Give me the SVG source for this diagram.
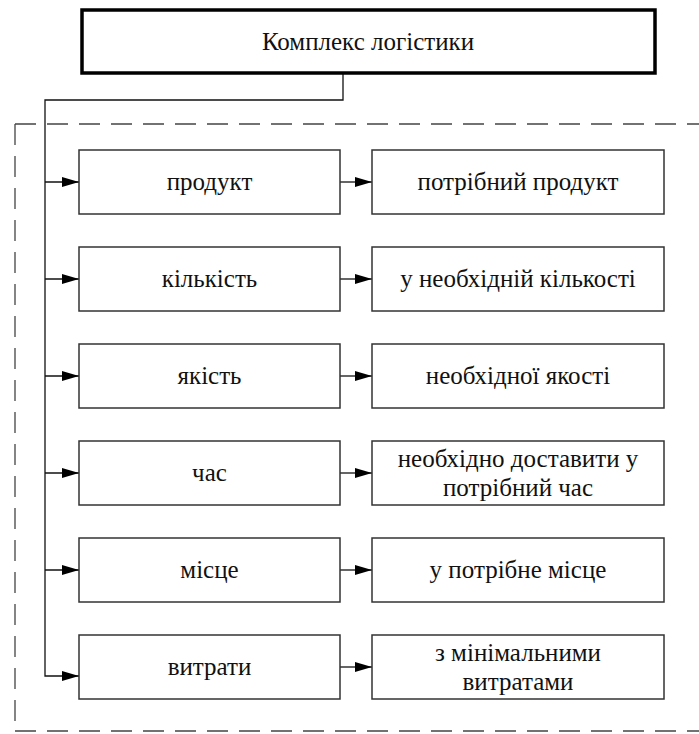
<svg xmlns="http://www.w3.org/2000/svg" width="699" height="734" viewBox="0 0 699 734">
<defs>
<style>
.box{fill:#fff;stroke:#333;stroke-width:1.5}
.top{fill:#fff;stroke:#000;stroke-width:3.5}
text{font-family:"Liberation Serif","Times New Roman","DejaVu Serif",serif;font-size:25px;fill:#111;text-anchor:middle}
.c{fill:none;stroke:#111;stroke-width:1.3}
.d{fill:none;stroke:#444;stroke-width:1.3;stroke-dasharray:21 11}
</style>
<marker id="ah" markerWidth="17" markerHeight="10" refX="17" refY="5" orient="auto" markerUnits="userSpaceOnUse">
<polygon points="0,0 17,5 0,10" fill="#000"/>
</marker>
</defs>
<g id="frame">
<line class="d" x1="15" y1="124" x2="715" y2="124"/>
<line class="d" x1="15" y1="124" x2="15" y2="731"/>
<line class="d" x1="15" y1="731" x2="715" y2="731"/>
</g>
<g id="connectors">
<polyline class="c" points="343,74 343,100 45,100 45,676 79,676" marker-end="url(#ah)"/>
<line class="c" x1="45" y1="182" x2="79" y2="182" marker-end="url(#ah)"/>
<line class="c" x1="45" y1="279" x2="79" y2="279" marker-end="url(#ah)"/>
<line class="c" x1="45" y1="376" x2="79" y2="376" marker-end="url(#ah)"/>
<line class="c" x1="45" y1="473" x2="79" y2="473" marker-end="url(#ah)"/>
<line class="c" x1="45" y1="570" x2="79" y2="570" marker-end="url(#ah)"/>
<line class="c" x1="340" y1="182" x2="372" y2="182" marker-end="url(#ah)"/>
<line class="c" x1="340" y1="279" x2="372" y2="279" marker-end="url(#ah)"/>
<line class="c" x1="340" y1="376" x2="372" y2="376" marker-end="url(#ah)"/>
<line class="c" x1="340" y1="473" x2="372" y2="473" marker-end="url(#ah)"/>
<line class="c" x1="340" y1="570" x2="372" y2="570" marker-end="url(#ah)"/>
<line class="c" x1="340" y1="667" x2="372" y2="667" marker-end="url(#ah)"/>
</g>
<g id="root"><rect class="top" x="82" y="10" width="573" height="63"/><text x="368" y="50">Комплекс логістики</text></g>
<g id="l1"><rect class="box" x="79" y="150" width="261" height="64"/><text x="209.5" y="190">продукт</text></g>
<g id="l2"><rect class="box" x="79" y="247" width="261" height="64"/><text x="209.5" y="287">кількість</text></g>
<g id="l3"><rect class="box" x="79" y="344" width="261" height="64"/><text x="209.5" y="384">якість</text></g>
<g id="l4"><rect class="box" x="79" y="441" width="261" height="64"/><text x="209.5" y="481">час</text></g>
<g id="l5"><rect class="box" x="79" y="538" width="261" height="64"/><text x="209.5" y="578">місце</text></g>
<g id="l6"><rect class="box" x="79" y="635" width="261" height="64"/><text x="209.5" y="675">витрати</text></g>
<g id="r1"><rect class="box" x="372" y="150" width="292" height="64"/><text x="518" y="190">потрібний продукт</text></g>
<g id="r2"><rect class="box" x="372" y="247" width="292" height="64"/><text x="518" y="287">у необхідній кількості</text></g>
<g id="r3"><rect class="box" x="372" y="344" width="292" height="64"/><text x="518" y="384">необхідної якості</text></g>
<g id="r4"><rect class="box" x="372" y="441" width="292" height="64"/><text x="518" y="467">необхідно доставити у</text><text x="518" y="496">потрібний час</text></g>
<g id="r5"><rect class="box" x="372" y="538" width="292" height="64"/><text x="518" y="578">у потрібне місце</text></g>
<g id="r6"><rect class="box" x="372" y="635" width="292" height="64"/><text x="518" y="661">з мінімальними</text><text x="518" y="690">витратами</text></g>
</svg>
